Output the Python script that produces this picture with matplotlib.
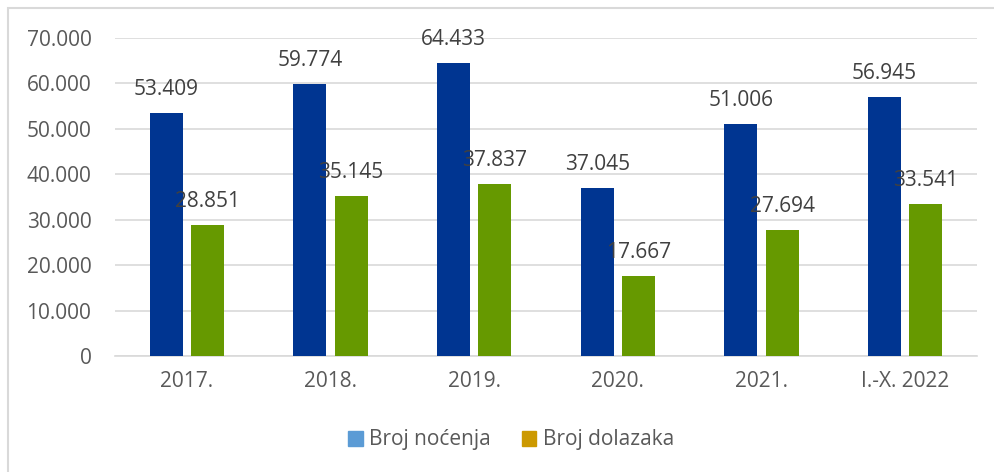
import matplotlib
matplotlib.use("Agg")
import matplotlib.pyplot as plt
from matplotlib.patches import Rectangle, Patch
import numpy as np

categories = ["2017.", "2018.", "2019.", "2020.", "2021.", "I.-X. 2022"]
nocenja = [53409, 59774, 64433, 37045, 51006, 56945]
dolazaka = [28851, 35145, 37837, 17667, 27694, 33541]
series_names = ["Broj noćenja", "Broj dolazaka"]
yticks = [0, 10000, 20000, 30000, 40000, 50000, 60000, 70000]

def fmt(v):
    return f"{v:,}".replace(",", ".")

plt.rcParams['font.family'] = ['Open Sans', 'DejaVu Sans']
txt = '#595959'
fs = 15

fig = plt.figure(figsize=(9.94, 4.72), dpi=100)
fig.patch.set_facecolor('white')
# outer frame
fig.patches.append(Rectangle((8/994, -0.1), 1.2, 1 - 8/472 + 0.1, transform=fig.transFigure,
                             fill=False, edgecolor='#D9D9D9', linewidth=1.5))

ax = fig.add_axes([115/994, 1 - 356/472, 862/994, 318/472])
x = np.arange(len(categories))
w = 0.23
off = 0.143
b1 = ax.bar(x - off, nocenja, w, color='#003591', zorder=3)
b2 = ax.bar(x + off, dolazaka, w, color='#669900', zorder=3)

for bars, vals in ((b1, nocenja), (b2, dolazaka)):
    for r, v in zip(bars, vals):
        ax.annotate(fmt(v), (r.get_x() + r.get_width() / 2, v), xytext=(0, 13),
                    textcoords='offset points', ha='center', va='baseline',
                    fontsize=fs, color='#404040', zorder=4)

ax.set_xlim(-0.5, len(categories) - 0.5)
ax.set_ylim(0, 70000)
ax.set_yticks(yticks)
ax.set_yticklabels([fmt(v) for v in yticks])
ax.set_xticks(x)
ax.set_xticklabels(categories)
ax.tick_params(axis='both', length=0, labelsize=fs, labelcolor=txt)
ax.tick_params(axis='y', pad=17)
ax.tick_params(axis='x', pad=11)
ax.grid(axis='y', color='#D9D9D9', linewidth=1.2, zorder=0)
for s in ['top', 'right', 'left']:
    ax.spines[s].set_visible(False)
ax.spines['bottom'].set_color('#D9D9D9')
ax.spines['bottom'].set_linewidth(1.2)

handles = [Patch(color='#5B9BD5'), Patch(color='#CC9900')]
fig.legend(handles, series_names, loc='center', bbox_to_anchor=(511/994, 1 - 440/472),
           ncol=2, frameon=False, fontsize=fs, labelcolor=txt, handlelength=0.7,
           handleheight=0.7, handletextpad=0.3, columnspacing=1.5)

fig.savefig('out.png', dpi=100, facecolor='white')
